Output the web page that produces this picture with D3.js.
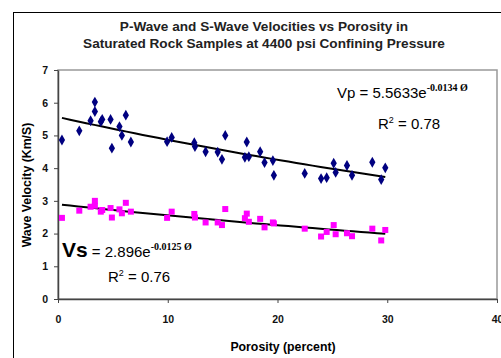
<!DOCTYPE html>
<html>
<head>
<meta charset="utf-8">
<script src="https://cdn.jsdelivr.net/npm/d3@7"></script>
<style>
  body { margin: 0; background: #fff; }
  svg { display: block; font-family: "Liberation Sans", Arial, sans-serif; }
</style>
</head>
<body>
<div id="chart"></div>
<script>
const w = 501;
const h = 358;

// porosity (percent) shared by both series
const porosity = [0.36, 1.94, 2.97, 3.36, 3.36, 3.9, 4.03, 4.79, 4.91, 5.6, 5.82, 6.18, 6.64,
  9.94, 10.36, 12.42, 12.48, 13.45, 14.55, 14.94, 15.24, 17.03, 17.2, 17.39, 18.42, 18.82,
  19.58, 19.67, 22.48, 23.97, 24.48, 25.12, 25.3, 26.33, 26.79, 28.64, 29.45, 29.82];
const vp = [4.86, 5.14, 5.45, 6.02, 5.73, 5.42, 5.49, 5.49, 4.61, 5.27, 5.0, 5.62, 4.8,
  4.81, 4.94, 4.78, 4.66, 4.5, 4.49, 4.27, 5.0, 4.33, 4.8, 4.35, 4.5, 4.17,
  4.23, 3.78, 3.84, 3.68, 3.71, 4.15, 3.87, 4.08, 3.78, 4.18, 3.65, 4.01];
const vs = [2.48, 2.7, 2.82, 3.0, 2.85, 2.67, 2.72, 2.78, 2.49, 2.74, 2.62, 2.94, 2.67,
  2.48, 2.67, 2.6, 2.49, 2.34, 2.34, 2.26, 2.75, 2.47, 2.61, 2.36, 2.45, 2.19,
  2.34, 2.31, 2.15, 1.91, 2.05, 2.26, 1.98, 2.01, 1.92, 2.15, 1.79, 2.11];

const xTicks = [0, 10, 20, 30, 40];
const yTicks = [0, 1, 2, 3, 4, 5, 6, 7];

// exponential trend lines from the chart
const vpFit = { a: 5.5633, b: -0.0134 };
const vsFit = { a: 2.896, b: -0.0125 };

const titleLines = ['P-Wave and S-Wave Velocities vs Porosity in',
  'Saturated Rock Samples at 4400 psi Confining Pressure'];

const plotL = 58, plotR = 497, plotT = 70, plotB = 299;

const xScale = d3.scaleLinear().domain([0, 40]).range([plotL, plotR]);
const yScale = d3.scaleLinear().domain([0, 7]).range([plotB, plotT]);

const svg = d3.select('#chart')
  .append('svg')
  .attr('width', w)
  .attr('height', h);

// chart border
svg.append('rect')
  .attr('x', 13.5).attr('y', 12.5)
  .attr('width', 600).attr('height', 400)
  .attr('fill', '#fff').attr('stroke', '#000');

// plot area border
svg.append('rect')
  .attr('x', plotL).attr('y', plotT)
  .attr('width', plotR - plotL).attr('height', plotB - plotT)
  .attr('fill', 'none').attr('stroke', '#999').attr('stroke-width', 1.5);

svg.append('g')
  .selectAll('text')
  .data(titleLines)
  .enter()
  .append('text')
  .attr('x', 264)
  .attr('y', (d, i) => 31 + i * 17)
  .attr('text-anchor', 'middle')
  .style('font-size', '13.6px')
  .style('font-weight', 'bold')
  .style('fill', '#222')
  .text(d => d);

const xAxis = d3.axisBottom(xScale).tickValues(xTicks).tickSize(4).tickSizeOuter(0);
const yAxis = d3.axisLeft(yScale).tickValues(yTicks).tickFormat(d3.format('d')).tickSize(4).tickSizeOuter(0);

const gx = svg.append('g')
  .attr('transform', 'translate(0,' + plotB + ')')
  .call(xAxis);
const gy = svg.append('g')
  .attr('transform', 'translate(' + plotL + ',0)')
  .call(yAxis);

[gx, gy].forEach(g => {
  g.select('.domain').attr('stroke', '#444').attr('stroke-width', 1.5);
  g.selectAll('.tick line').attr('stroke', '#444');
  g.selectAll('.tick text')
    .style('font-size', '10.5px')
    .style('font-weight', 'bold')
    .style('font-family', '"Liberation Sans", Arial, sans-serif')
    .attr('fill', '#111');
});
gx.selectAll('.tick text').attr('dy', '1.6em');
gy.selectAll('.tick text').attr('x', -10);

svg.append('text')
  .attr('x', 283).attr('y', 351)
  .attr('text-anchor', 'middle')
  .style('font-size', '12.3px').style('font-weight', 'bold')
  .text('Porosity (percent)');

svg.append('text')
  .attr('transform', 'translate(31,185) rotate(-90)')
  .attr('text-anchor', 'middle')
  .style('font-size', '12.3px').style('font-weight', 'bold')
  .text('Wave Velocity (Km/S)');

// trend lines
const line = d3.line().x(d => xScale(d[0])).y(d => yScale(d[1]));
const xmin = d3.min(porosity), xmax = d3.max(porosity);
[vpFit, vsFit].forEach(f => {
  const pts = d3.range(0, 41).map(i => {
    const p = xmin + (xmax - xmin) * i / 40;
    return [p, f.a * Math.exp(f.b * p)];
  });
  svg.append('path')
    .attr('d', line(pts))
    .attr('fill', 'none')
    .attr('stroke', '#000')
    .attr('stroke-width', 2);
});

// P-wave diamonds
svg.append('g')
  .selectAll('path')
  .data(porosity.map((p, i) => [p, vp[i]]))
  .enter()
  .append('path')
  .attr('d', d3.symbol().type(d3.symbolDiamond).size(34))
  .attr('transform', d => 'translate(' + xScale(d[0]) + ',' + yScale(d[1]) + ')')
  .attr('fill', '#000080');

// S-wave squares
svg.append('g')
  .selectAll('rect')
  .data(porosity.map((p, i) => [p, vs[i]]))
  .enter()
  .append('rect')
  .attr('x', d => xScale(d[0]) - 3)
  .attr('y', d => yScale(d[1]) - 3)
  .attr('width', 6)
  .attr('height', 6)
  .attr('fill', '#ff00ff');

// equations
const vpEq = svg.append('text').attr('x', 337).attr('y', 98).style('font-size', '15px');
vpEq.append('tspan').text('Vp = 5.5633e');
vpEq.append('tspan').attr('dy', -7)
  .style('font-family', '"Liberation Serif", serif').style('font-weight', 'bold').style('font-size', '10px')
  .text('-0.0134 Ø');

const vpR = svg.append('text').attr('x', 378).attr('y', 129).style('font-size', '15px');
vpR.append('tspan').text('R');
vpR.append('tspan').attr('dy', -6).style('font-size', '9px').text('2');
vpR.append('tspan').attr('dy', 6).text(' = 0.78');

const vsEq = svg.append('text').attr('x', 62).attr('y', 257);
vsEq.append('tspan').style('font-size', '21px').style('font-weight', 'bold').text('Vs');
vsEq.append('tspan').style('font-size', '15px').text(' = 2.896e');
vsEq.append('tspan').attr('dy', -7)
  .style('font-family', '"Liberation Serif", serif').style('font-weight', 'bold').style('font-size', '10px')
  .text('-0.0125 Ø');

const vsR = svg.append('text').attr('x', 108).attr('y', 282).style('font-size', '15px');
vsR.append('tspan').text('R');
vsR.append('tspan').attr('dy', -6).style('font-size', '9px').text('2');
vsR.append('tspan').attr('dy', 6).text(' = 0.76');
</script>
</body>
</html>
